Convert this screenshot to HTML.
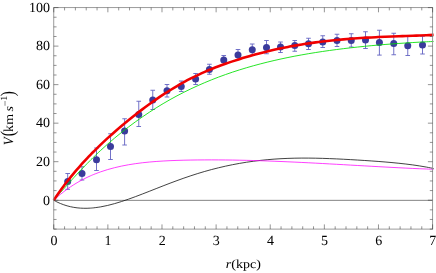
<!DOCTYPE html>
<html><head><meta charset="utf-8">
<style>
html,body{margin:0;padding:0;background:#fff;}
body{width:436px;height:273px;overflow:hidden;font-family:"Liberation Serif",serif;}
svg{display:block;will-change:transform;}
text{font-family:"Liberation Serif",serif;fill:#000;text-rendering:geometricPrecision;}
</style></head><body>
<svg width="436" height="273" viewBox="0 0 436 273">
<rect width="436" height="273" fill="#fff"/>

<line x1="53.75" y1="200.35" x2="432.60" y2="200.35" stroke="#777" stroke-width="0.9"/>
<path d="M67.70 173.50 V189.30 M65.40 173.50 H70.00 M65.40 189.30 H70.00 M82.00 166.75 V180.00 M79.70 166.75 H84.30 M79.70 180.00 H84.30 M96.50 148.00 V170.50 M94.20 148.00 H98.80 M94.20 170.50 H98.80 M110.50 133.75 V159.50 M108.20 133.75 H112.80 M108.20 159.50 H112.80 M124.60 118.75 V145.00 M122.30 118.75 H126.90 M122.30 145.00 H126.90 M138.75 101.25 V126.50 M136.45 101.25 H141.05 M136.45 126.50 H141.05 M152.75 90.25 V109.50 M150.45 90.25 H155.05 M150.45 109.50 H155.05 M167.00 84.50 V97.00 M164.70 84.50 H169.30 M164.70 97.00 H169.30 M181.25 81.00 V91.50 M178.95 81.00 H183.55 M178.95 91.50 H183.55 M195.60 73.50 V84.50 M193.30 73.50 H197.90 M193.30 84.50 H197.90 M209.40 64.25 V74.25 M207.10 64.25 H211.70 M207.10 74.25 H211.70 M223.75 55.50 V64.50 M221.45 55.50 H226.05 M221.45 64.50 H226.05 M238.00 49.50 V59.50 M235.70 49.50 H240.30 M235.70 59.50 H240.30 M252.25 44.00 V55.00 M249.95 44.00 H254.55 M249.95 55.00 H254.55 M266.50 40.50 V53.75 M264.20 40.50 H268.80 M264.20 53.75 H268.80 M280.50 42.00 V52.50 M278.20 42.00 H282.80 M278.20 52.50 H282.80 M294.75 40.50 V51.25 M292.45 40.50 H297.05 M292.45 51.25 H297.05 M308.50 38.25 V49.50 M306.20 38.25 H310.80 M306.20 49.50 H310.80 M322.75 35.75 V47.50 M320.45 35.75 H325.05 M320.45 47.50 H325.05 M337.00 34.25 V46.50 M334.70 34.25 H339.30 M334.70 46.50 H339.30 M351.25 33.75 V47.00 M348.95 33.75 H353.55 M348.95 47.00 H353.55 M365.50 31.75 V48.50 M363.20 31.75 H367.80 M363.20 48.50 H367.80 M379.40 30.25 V55.10 M377.10 30.25 H381.70 M377.10 55.10 H381.70 M393.75 33.25 V54.75 M391.45 33.25 H396.05 M391.45 54.75 H396.05 M407.75 36.25 V55.50 M405.45 36.25 H410.05 M405.45 55.50 H410.05 M422.50 36.25 V54.00 M420.20 36.25 H424.80 M420.20 54.00 H424.80" fill="none" stroke="#6262c2" stroke-width="0.9"/>
<circle cx="67.70" cy="181.50" r="3.5" fill="#3b3b9c"/>
<circle cx="82.00" cy="173.50" r="3.5" fill="#3b3b9c"/>
<circle cx="96.50" cy="159.75" r="3.5" fill="#3b3b9c"/>
<circle cx="110.50" cy="146.50" r="3.5" fill="#3b3b9c"/>
<circle cx="124.60" cy="131.00" r="3.5" fill="#3b3b9c"/>
<circle cx="138.75" cy="114.50" r="3.5" fill="#3b3b9c"/>
<circle cx="152.75" cy="100.00" r="3.5" fill="#3b3b9c"/>
<circle cx="167.00" cy="90.75" r="3.5" fill="#3b3b9c"/>
<circle cx="181.25" cy="86.50" r="3.5" fill="#3b3b9c"/>
<circle cx="195.60" cy="79.10" r="3.5" fill="#3b3b9c"/>
<circle cx="209.40" cy="69.50" r="3.5" fill="#3b3b9c"/>
<circle cx="223.75" cy="60.00" r="3.5" fill="#3b3b9c"/>
<circle cx="238.00" cy="55.00" r="3.5" fill="#3b3b9c"/>
<circle cx="252.25" cy="49.75" r="3.5" fill="#3b3b9c"/>
<circle cx="266.50" cy="47.50" r="3.5" fill="#3b3b9c"/>
<circle cx="280.50" cy="47.00" r="3.5" fill="#3b3b9c"/>
<circle cx="294.75" cy="45.60" r="3.5" fill="#3b3b9c"/>
<circle cx="308.50" cy="43.75" r="3.5" fill="#3b3b9c"/>
<circle cx="322.75" cy="42.00" r="3.5" fill="#3b3b9c"/>
<circle cx="337.00" cy="40.50" r="3.5" fill="#3b3b9c"/>
<circle cx="351.25" cy="40.50" r="3.5" fill="#3b3b9c"/>
<circle cx="365.50" cy="40.00" r="3.5" fill="#3b3b9c"/>
<circle cx="379.40" cy="42.50" r="3.5" fill="#3b3b9c"/>
<circle cx="393.75" cy="43.50" r="3.5" fill="#3b3b9c"/>
<circle cx="407.75" cy="45.75" r="3.5" fill="#3b3b9c"/>
<circle cx="422.50" cy="45.00" r="3.5" fill="#3b3b9c"/>
<path d="M53.75 200.25 C54.31 200.54 55.97 201.45 57.08 202.00 C58.19 202.54 59.31 203.04 60.42 203.50 C61.53 203.97 62.64 204.39 63.75 204.78 C64.86 205.17 65.97 205.52 67.08 205.84 C68.19 206.16 69.31 206.44 70.42 206.69 C71.53 206.95 72.64 207.16 73.75 207.35 C74.86 207.54 75.97 207.70 77.08 207.83 C78.19 207.96 79.31 208.06 80.42 208.13 C81.53 208.21 82.64 208.25 83.75 208.28 C84.86 208.30 85.97 208.29 87.08 208.27 C88.19 208.24 89.31 208.19 90.42 208.12 C91.53 208.04 92.04 208.04 93.75 207.83 C95.46 207.62 98.37 207.26 100.69 206.86 C103.00 206.46 105.31 205.98 107.62 205.44 C109.93 204.90 112.25 204.29 114.56 203.64 C116.87 202.99 119.18 202.28 121.49 201.54 C123.80 200.80 126.12 200.01 128.43 199.20 C130.74 198.39 133.05 197.54 135.36 196.68 C137.68 195.82 139.99 194.94 142.30 194.04 C144.61 193.15 146.92 192.24 149.24 191.33 C151.55 190.43 153.86 189.51 156.17 188.60 C158.48 187.69 160.80 186.77 163.11 185.87 C165.42 184.97 167.73 184.08 170.04 183.20 C172.35 182.32 174.67 181.45 176.98 180.61 C179.29 179.76 181.60 178.93 183.91 178.12 C186.23 177.31 188.54 176.52 190.85 175.75 C193.16 174.99 195.47 174.24 197.79 173.53 C200.10 172.81 202.41 172.12 204.72 171.45 C207.03 170.79 209.35 170.15 211.66 169.53 C213.97 168.92 216.28 168.33 218.59 167.77 C220.90 167.20 223.22 166.67 225.53 166.16 C227.84 165.65 230.15 165.16 232.46 164.71 C234.78 164.25 237.09 163.82 239.40 163.41 C241.71 163.00 244.02 162.62 246.34 162.26 C248.65 161.91 250.96 161.57 253.27 161.27 C255.58 160.96 257.90 160.68 260.21 160.42 C262.52 160.16 264.83 159.92 267.14 159.71 C269.45 159.50 271.77 159.31 274.08 159.14 C276.39 158.97 278.70 158.83 281.01 158.70 C283.33 158.57 285.64 158.47 287.95 158.38 C290.26 158.30 292.57 158.23 294.89 158.18 C297.20 158.13 299.51 158.10 301.82 158.09 C304.13 158.08 306.45 158.08 308.76 158.10 C311.07 158.11 313.38 158.15 315.69 158.19 C318.00 158.24 320.32 158.30 322.63 158.37 C324.94 158.44 327.25 158.52 329.56 158.61 C331.88 158.70 334.19 158.80 336.50 158.90 C338.81 159.01 341.12 159.12 343.44 159.24 C345.75 159.36 348.06 159.49 350.37 159.62 C352.68 159.75 355.00 159.88 357.31 160.02 C359.62 160.17 361.93 160.31 364.24 160.46 C366.55 160.61 368.87 160.77 371.18 160.93 C373.49 161.09 375.80 161.26 378.11 161.43 C380.43 161.61 382.74 161.79 385.05 161.98 C387.36 162.18 389.67 162.38 391.99 162.59 C394.30 162.81 396.61 163.03 398.92 163.27 C401.23 163.51 403.55 163.77 405.86 164.04 C408.17 164.32 410.48 164.61 412.79 164.92 C415.10 165.24 417.42 165.58 419.73 165.94 C422.04 166.31 424.35 166.70 426.66 167.13 C428.98 167.56 432.44 168.28 433.60 168.51" fill="none" stroke="#111" stroke-width="0.8"/>
<path d="M53.75 200.25 C54.31 199.75 55.97 198.20 57.08 197.23 C58.19 196.25 59.31 195.31 60.42 194.39 C61.53 193.47 62.64 192.59 63.75 191.73 C64.86 190.87 65.97 190.05 67.08 189.24 C68.19 188.44 69.31 187.67 70.42 186.91 C71.53 186.16 72.64 185.44 73.75 184.74 C74.86 184.04 75.97 183.36 77.08 182.71 C78.19 182.05 79.31 181.42 80.42 180.81 C81.53 180.20 82.64 179.61 83.75 179.05 C84.86 178.48 85.97 177.93 87.08 177.40 C88.19 176.87 89.31 176.36 90.42 175.87 C91.53 175.38 92.04 175.13 93.75 174.45 C95.46 173.78 98.37 172.63 100.69 171.82 C103.00 171.01 105.31 170.27 107.62 169.58 C109.93 168.89 112.25 168.27 114.56 167.69 C116.87 167.11 119.18 166.58 121.49 166.10 C123.80 165.61 126.12 165.17 128.43 164.77 C130.74 164.37 133.05 164.01 135.36 163.68 C137.68 163.35 139.99 163.05 142.30 162.78 C144.61 162.51 146.92 162.28 149.24 162.06 C151.55 161.84 153.86 161.65 156.17 161.48 C158.48 161.31 160.80 161.16 163.11 161.03 C165.42 160.89 167.73 160.77 170.04 160.67 C172.35 160.57 174.67 160.48 176.98 160.40 C179.29 160.32 181.60 160.26 183.91 160.20 C186.23 160.14 188.54 160.10 190.85 160.06 C193.16 160.02 195.47 159.99 197.79 159.96 C200.10 159.94 202.41 159.92 204.72 159.91 C207.03 159.90 209.35 159.89 211.66 159.89 C213.97 159.89 216.28 159.90 218.59 159.91 C220.90 159.93 223.22 159.95 225.53 159.97 C227.84 160.00 230.15 160.03 232.46 160.06 C234.78 160.10 237.09 160.14 239.40 160.19 C241.71 160.23 244.02 160.28 246.34 160.34 C248.65 160.39 250.96 160.45 253.27 160.52 C255.58 160.58 257.90 160.65 260.21 160.73 C262.52 160.80 264.83 160.88 267.14 160.96 C269.45 161.04 271.77 161.13 274.08 161.22 C276.39 161.31 278.70 161.40 281.01 161.50 C283.33 161.59 285.64 161.69 287.95 161.80 C290.26 161.90 292.57 162.00 294.89 162.11 C297.20 162.22 299.51 162.33 301.82 162.45 C304.13 162.56 306.45 162.68 308.76 162.79 C311.07 162.91 313.38 163.03 315.69 163.15 C318.00 163.28 320.32 163.40 322.63 163.53 C324.94 163.65 327.25 163.78 329.56 163.91 C331.88 164.03 334.19 164.16 336.50 164.29 C338.81 164.42 341.12 164.55 343.44 164.68 C345.75 164.81 348.06 164.95 350.37 165.08 C352.68 165.21 355.00 165.34 357.31 165.47 C359.62 165.61 361.93 165.74 364.24 165.87 C366.55 166.00 368.87 166.13 371.18 166.26 C373.49 166.39 375.80 166.52 378.11 166.65 C380.43 166.77 382.74 166.90 385.05 167.03 C387.36 167.15 389.67 167.27 391.99 167.40 C394.30 167.52 396.61 167.64 398.92 167.75 C401.23 167.87 403.55 167.99 405.86 168.10 C408.17 168.21 410.48 168.32 412.79 168.43 C415.10 168.54 417.42 168.64 419.73 168.74 C422.04 168.84 424.35 168.94 426.66 169.03 C428.98 169.12 432.44 169.26 433.60 169.30" fill="none" stroke="#ff00ff" stroke-width="0.75"/>
<path d="M53.75 200.25 C54.31 199.61 55.97 197.70 57.08 196.43 C58.19 195.15 59.31 193.88 60.42 192.62 C61.53 191.35 62.64 190.09 63.75 188.83 C64.86 187.57 65.97 186.32 67.08 185.08 C68.19 183.83 69.31 182.59 70.42 181.36 C71.53 180.13 72.64 178.91 73.75 177.69 C74.86 176.48 75.97 175.28 77.08 174.08 C78.19 172.89 79.31 171.70 80.42 170.53 C81.53 169.35 82.64 168.19 83.75 167.03 C84.86 165.88 85.97 164.74 87.08 163.61 C88.19 162.48 89.31 161.36 90.42 160.26 C91.53 159.15 92.04 158.62 93.75 156.97 C95.46 155.33 98.37 152.52 100.69 150.38 C103.00 148.23 105.31 146.14 107.62 144.10 C109.93 142.06 112.25 140.07 114.56 138.13 C116.87 136.19 119.18 134.30 121.49 132.45 C123.80 130.60 126.12 128.80 128.43 127.04 C130.74 125.28 133.05 123.56 135.36 121.88 C137.68 120.21 139.99 118.57 142.30 116.97 C144.61 115.37 146.92 113.82 149.24 112.30 C151.55 110.78 153.86 109.30 156.17 107.85 C158.48 106.41 160.80 105.01 163.11 103.64 C165.42 102.27 167.73 100.93 170.04 99.63 C172.35 98.34 174.67 97.07 176.98 95.84 C179.29 94.61 181.60 93.42 183.91 92.26 C186.23 91.09 188.54 89.96 190.85 88.87 C193.16 87.77 195.47 86.70 197.79 85.66 C200.10 84.62 202.41 83.62 204.72 82.64 C207.03 81.66 209.35 80.71 211.66 79.78 C213.97 78.86 216.28 77.96 218.59 77.09 C220.90 76.22 223.22 75.38 225.53 74.55 C227.84 73.73 230.15 72.94 232.46 72.17 C234.78 71.39 237.09 70.64 239.40 69.92 C241.71 69.19 244.02 68.48 246.34 67.80 C248.65 67.11 250.96 66.45 253.27 65.81 C255.58 65.16 257.90 64.54 260.21 63.94 C262.52 63.33 264.83 62.75 267.14 62.18 C269.45 61.61 271.77 61.06 274.08 60.52 C276.39 59.99 278.70 59.47 281.01 58.97 C283.33 58.47 285.64 57.98 287.95 57.51 C290.26 57.04 292.57 56.59 294.89 56.14 C297.20 55.70 299.51 55.27 301.82 54.86 C304.13 54.44 306.45 54.04 308.76 53.65 C311.07 53.26 313.38 52.89 315.69 52.52 C318.00 52.16 320.32 51.81 322.63 51.46 C324.94 51.12 327.25 50.79 329.56 50.47 C331.88 50.15 334.19 49.84 336.50 49.54 C338.81 49.24 341.12 48.95 343.44 48.66 C345.75 48.38 348.06 48.11 350.37 47.85 C352.68 47.58 355.00 47.33 357.31 47.08 C359.62 46.83 361.93 46.60 364.24 46.36 C366.55 46.13 368.87 45.91 371.18 45.69 C373.49 45.48 375.80 45.27 378.11 45.07 C380.43 44.87 382.74 44.67 385.05 44.48 C387.36 44.30 389.67 44.12 391.99 43.94 C394.30 43.77 396.61 43.60 398.92 43.44 C401.23 43.28 403.55 43.12 405.86 42.97 C408.17 42.82 410.48 42.68 412.79 42.54 C415.10 42.40 417.42 42.27 419.73 42.14 C422.04 42.02 424.35 41.90 426.66 41.78 C428.98 41.67 432.44 41.51 433.60 41.45" fill="none" stroke="#00e000" stroke-width="0.85"/>
<path d="M53.75 200.25 C54.31 199.41 55.97 196.85 57.08 195.22 C58.19 193.58 59.31 192.00 60.42 190.45 C61.53 188.90 62.64 187.39 63.75 185.91 C64.86 184.43 65.97 182.99 67.08 181.57 C68.19 180.15 69.31 178.76 70.42 177.40 C71.53 176.03 72.64 174.69 73.75 173.37 C74.86 172.04 75.97 170.74 77.08 169.46 C78.19 168.18 79.31 166.91 80.42 165.67 C81.53 164.42 82.64 163.19 83.75 161.98 C84.86 160.77 85.97 159.57 87.08 158.39 C88.19 157.21 89.31 156.04 90.42 154.89 C91.53 153.74 92.04 153.19 93.75 151.48 C95.46 149.78 98.37 146.88 100.69 144.65 C103.00 142.43 105.31 140.26 107.62 138.14 C109.93 136.01 112.25 133.94 114.56 131.91 C116.87 129.88 119.18 127.89 121.49 125.94 C123.80 123.99 126.12 122.08 128.43 120.20 C130.74 118.33 133.05 116.49 135.36 114.69 C137.68 112.88 139.99 111.12 142.30 109.38 C144.61 107.65 146.92 105.95 149.24 104.28 C151.55 102.61 153.86 100.98 156.17 99.39 C158.48 97.79 160.80 96.23 163.11 94.71 C165.42 93.18 167.73 91.70 170.04 90.26 C172.35 88.81 174.67 87.41 176.98 86.05 C179.29 84.70 181.60 83.38 183.91 82.12 C186.23 80.85 188.54 79.63 190.85 78.45 C193.16 77.27 195.47 76.15 197.79 75.06 C200.10 73.97 202.41 72.92 204.72 71.92 C207.03 70.91 209.35 69.95 211.66 69.01 C213.97 68.08 216.28 67.18 218.59 66.31 C220.90 65.44 223.22 64.60 225.53 63.78 C227.84 62.96 230.15 62.17 232.46 61.39 C234.78 60.62 237.09 59.88 239.40 59.15 C241.71 58.42 244.02 57.72 246.34 57.03 C248.65 56.35 250.96 55.68 253.27 55.04 C255.58 54.40 257.90 53.78 260.21 53.17 C262.52 52.57 264.83 51.99 267.14 51.43 C269.45 50.87 271.77 50.33 274.08 49.81 C276.39 49.28 278.70 48.78 281.01 48.30 C283.33 47.81 285.64 47.35 287.95 46.90 C290.26 46.46 292.57 46.03 294.89 45.62 C297.20 45.21 299.51 44.82 301.82 44.44 C304.13 44.06 306.45 43.71 308.76 43.36 C311.07 43.02 313.38 42.70 315.69 42.39 C318.00 42.07 320.32 41.78 322.63 41.50 C324.94 41.22 327.25 40.95 329.56 40.70 C331.88 40.45 334.19 40.21 336.50 39.98 C338.81 39.76 341.12 39.54 343.44 39.34 C345.75 39.14 348.06 38.95 350.37 38.77 C352.68 38.59 355.00 38.43 357.31 38.27 C359.62 38.11 361.93 37.96 364.24 37.82 C366.55 37.68 368.87 37.55 371.18 37.43 C373.49 37.30 375.80 37.19 378.11 37.07 C380.43 36.96 382.74 36.86 385.05 36.76 C387.36 36.66 389.67 36.57 391.99 36.47 C394.30 36.38 396.61 36.29 398.92 36.21 C401.23 36.12 403.55 36.04 405.86 35.96 C408.17 35.87 410.48 35.79 412.79 35.71 C415.10 35.62 417.42 35.54 419.73 35.45 C422.04 35.37 424.35 35.28 426.66 35.19 C428.98 35.09 432.44 34.94 433.60 34.89" fill="none" stroke="#f00000" stroke-width="2.6" stroke-linecap="butt"/>
<rect x="53.75" y="7.60" width="378.85" height="221.50" fill="none" stroke="#909090" stroke-width="0.9"/>
<path d="M53.75 229.10 v-4.70 M53.75 7.60 v4.70 M64.57 229.10 v-2.80 M64.57 7.60 v2.80 M75.40 229.10 v-2.80 M75.40 7.60 v2.80 M86.22 229.10 v-2.80 M86.22 7.60 v2.80 M97.05 229.10 v-2.80 M97.05 7.60 v2.80 M107.87 229.10 v-4.70 M107.87 7.60 v4.70 M118.70 229.10 v-2.80 M118.70 7.60 v2.80 M129.52 229.10 v-2.80 M129.52 7.60 v2.80 M140.34 229.10 v-2.80 M140.34 7.60 v2.80 M151.17 229.10 v-2.80 M151.17 7.60 v2.80 M161.99 229.10 v-4.70 M161.99 7.60 v4.70 M172.82 229.10 v-2.80 M172.82 7.60 v2.80 M183.64 229.10 v-2.80 M183.64 7.60 v2.80 M194.47 229.10 v-2.80 M194.47 7.60 v2.80 M205.29 229.10 v-2.80 M205.29 7.60 v2.80 M216.11 229.10 v-4.70 M216.11 7.60 v4.70 M226.94 229.10 v-2.80 M226.94 7.60 v2.80 M237.76 229.10 v-2.80 M237.76 7.60 v2.80 M248.59 229.10 v-2.80 M248.59 7.60 v2.80 M259.41 229.10 v-2.80 M259.41 7.60 v2.80 M270.24 229.10 v-4.70 M270.24 7.60 v4.70 M281.06 229.10 v-2.80 M281.06 7.60 v2.80 M291.88 229.10 v-2.80 M291.88 7.60 v2.80 M302.71 229.10 v-2.80 M302.71 7.60 v2.80 M313.53 229.10 v-2.80 M313.53 7.60 v2.80 M324.36 229.10 v-4.70 M324.36 7.60 v4.70 M335.18 229.10 v-2.80 M335.18 7.60 v2.80 M346.01 229.10 v-2.80 M346.01 7.60 v2.80 M356.83 229.10 v-2.80 M356.83 7.60 v2.80 M367.65 229.10 v-2.80 M367.65 7.60 v2.80 M378.48 229.10 v-4.70 M378.48 7.60 v4.70 M389.30 229.10 v-2.80 M389.30 7.60 v2.80 M400.13 229.10 v-2.80 M400.13 7.60 v2.80 M410.95 229.10 v-2.80 M410.95 7.60 v2.80 M421.78 229.10 v-2.80 M421.78 7.60 v2.80 M432.60 229.10 v-4.70 M432.60 7.60 v4.70 M53.75 229.09 h2.80 M432.60 229.09 h-2.80 M53.75 219.46 h2.80 M432.60 219.46 h-2.80 M53.75 209.83 h2.80 M432.60 209.83 h-2.80 M53.75 200.20 h4.70 M432.60 200.20 h-4.70 M53.75 190.57 h2.80 M432.60 190.57 h-2.80 M53.75 180.94 h2.80 M432.60 180.94 h-2.80 M53.75 171.31 h2.80 M432.60 171.31 h-2.80 M53.75 161.68 h4.70 M432.60 161.68 h-4.70 M53.75 152.05 h2.80 M432.60 152.05 h-2.80 M53.75 142.42 h2.80 M432.60 142.42 h-2.80 M53.75 132.79 h2.80 M432.60 132.79 h-2.80 M53.75 123.16 h4.70 M432.60 123.16 h-4.70 M53.75 113.53 h2.80 M432.60 113.53 h-2.80 M53.75 103.90 h2.80 M432.60 103.90 h-2.80 M53.75 94.27 h2.80 M432.60 94.27 h-2.80 M53.75 84.64 h4.70 M432.60 84.64 h-4.70 M53.75 75.01 h2.80 M432.60 75.01 h-2.80 M53.75 65.38 h2.80 M432.60 65.38 h-2.80 M53.75 55.75 h2.80 M432.60 55.75 h-2.80 M53.75 46.12 h4.70 M432.60 46.12 h-4.70 M53.75 36.49 h2.80 M432.60 36.49 h-2.80 M53.75 26.86 h2.80 M432.60 26.86 h-2.80 M53.75 17.23 h2.80 M432.60 17.23 h-2.80 M53.75 7.60 h4.70 M432.60 7.60 h-4.70" fill="none" stroke="#2a2a2a" stroke-width="0.5"/>
<text transform="translate(53.95 244.6) scale(1.0 1)" font-size="14" text-anchor="middle">0</text>
<text transform="translate(108.07 244.6) scale(1.0 1)" font-size="14" text-anchor="middle">1</text>
<text transform="translate(162.19 244.6) scale(1.0 1)" font-size="14" text-anchor="middle">2</text>
<text transform="translate(216.31 244.6) scale(1.0 1)" font-size="14" text-anchor="middle">3</text>
<text transform="translate(270.44 244.6) scale(1.0 1)" font-size="14" text-anchor="middle">4</text>
<text transform="translate(324.56 244.6) scale(1.0 1)" font-size="14" text-anchor="middle">5</text>
<text transform="translate(378.68 244.6) scale(1.0 1)" font-size="14" text-anchor="middle">6</text>
<text transform="translate(432.80 244.6) scale(1.0 1)" font-size="14" text-anchor="middle">7</text>
<text transform="translate(49.9 204.50) scale(1.0 1)" font-size="14" text-anchor="end">0</text>
<text transform="translate(49.9 165.98) scale(1.0 1)" font-size="14" text-anchor="end">20</text>
<text transform="translate(49.9 127.46) scale(1.0 1)" font-size="14" text-anchor="end">40</text>
<text transform="translate(49.9 88.94) scale(1.0 1)" font-size="14" text-anchor="end">60</text>
<text transform="translate(49.9 50.42) scale(1.0 1)" font-size="14" text-anchor="end">80</text>
<text transform="translate(49.9 11.90) scale(1.0 1)" font-size="14" text-anchor="end">100</text>
<text transform="translate(243.4 267.5) scale(1.14 1)" font-size="12.3" text-anchor="middle"><tspan font-style="italic">r</tspan>(kpc)</text>
<g transform="translate(12.8 144) rotate(-90)"><text transform="translate(-1.30 0.00) scale(0.92 1)" font-size="14" font-style="italic">V</text><text transform="translate(7.80 1.60) scale(1.25 1.6)" font-size="12.3">(</text><text transform="translate(11.90 0.00) scale(1.14 1.12)" font-size="12.3">k</text><text transform="translate(19.30 0.00) scale(1.14 1)" font-size="12.3">m</text><text transform="translate(32.60 0.00) scale(1.14 1)" font-size="12.3" font-style="italic">s</text><text transform="translate(37.80 -5.30) scale(1.14 1)" font-size="9">−</text><text transform="translate(43.10 -5.80) scale(1.14 1)" font-size="9.5">1</text><text transform="translate(47.80 1.60) scale(1.25 1.6)" font-size="12.3">)</text></g>
</svg></body></html>
